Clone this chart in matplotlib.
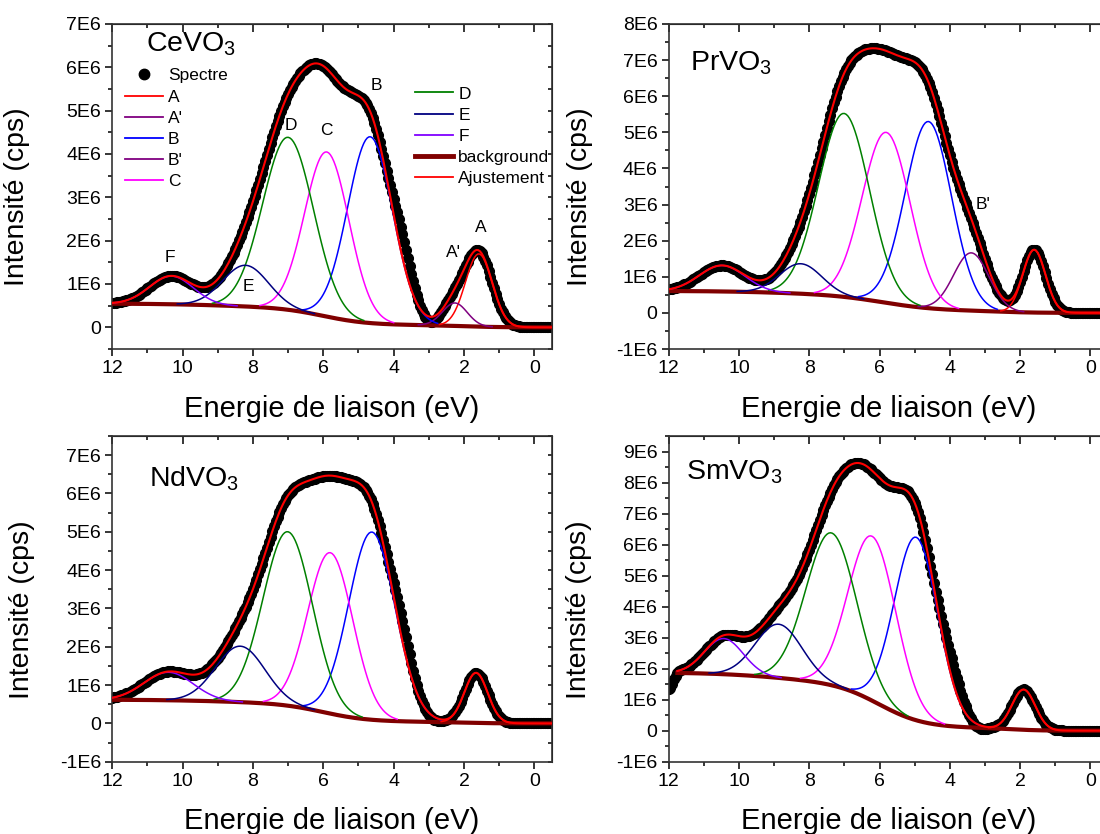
import numpy as np
import matplotlib
matplotlib.use("Agg")
import matplotlib.pyplot as plt
from matplotlib.lines import Line2D
from matplotlib.ticker import MultipleLocator, FuncFormatter

plt.rcParams['font.family'] = ['Liberation Sans', 'DejaVu Sans']
plt.rcParams['mathtext.fontset'] = 'custom'
plt.rcParams['mathtext.rm'] = 'Liberation Sans'
plt.rcParams['mathtext.default'] = 'regular'

# binding energy sampling of the spectra (eV)
energy = np.linspace(12.0, -0.5, 251)

# ---- CeVO3 ----
ce_names = ["A", "A'", "B", "C", "D", "E", "F"]
ce_centers = [1.58, 2.26, 4.67, 5.90, 7.00, 8.21, 10.32]
ce_heights = [1.68e6, 0.53e6, 4.30e6, 3.80e6, 3.98e6, 0.95e6, 0.65e6]
ce_widths = [0.38, 0.35, 0.64, 0.63, 0.72, 0.65, 0.62]
ce_bg_pos = [2.0, 6.0, 9.0]
ce_bg_step = [0.05e6, 0.42e6, 0.08e6]
ce_bg_width = [0.5, 0.65, 1.0]
ce_res_pos = [2.95, 3.75]
ce_res_amp = [-0.12e6, 0.55e6]
ce_res_width = [0.2, 0.28]

# ---- PrVO3 ----
pr_names = ["A", "B'", "B", "C", "D", "E", "F"]
pr_centers = [1.60, 3.39, 4.61, 5.81, 7.01, 8.24, 10.48]
pr_heights = [1.74e6, 1.60e6, 5.17e6, 4.72e6, 5.08e6, 0.83e6, 0.72e6]
pr_widths = [0.32, 0.50, 0.66, 0.68, 0.72, 0.60, 0.65]
pr_bg_pos = [2.5, 5.9, 9.0]
pr_bg_step = [0.05e6, 0.48e6, 0.08e6]
pr_bg_width = [0.5, 0.8, 1.0]
pr_res_pos = []
pr_res_amp = []
pr_res_width = []

# ---- NdVO3 ----
nd_names = ["A", "B", "C", "D", "E", "F"]
nd_centers = [1.66, 4.62, 5.80, 7.01, 8.36, 10.40]
nd_heights = [1.31e6, 4.90e6, 4.20e6, 4.54e6, 1.46e6, 0.73e6]
nd_widths = [0.33, 0.66, 0.64, 0.70, 0.70, 0.70]
nd_bg_pos = [2.2, 6.0, 9.0]
nd_bg_step = [0.04e6, 0.50e6, 0.08e6]
nd_bg_width = [0.5, 0.65, 1.0]
nd_res_pos = [2.9, 3.75]
nd_res_amp = [-0.08e6, 0.55e6]
nd_res_width = [0.2, 0.28]

# ---- SmVO3 ----
sm_names = ["A", "B", "C", "D", "E", "F"]
sm_centers = [1.90, 4.96, 6.21, 7.37, 8.87, 10.43]
sm_heights = [1.30e6, 5.90e6, 5.30e6, 4.91e6, 1.73e6, 1.15e6]
sm_widths = [0.33, 0.62, 0.68, 0.72, 0.66, 0.55]
sm_bg_pos = [2.2, 6.0, 9.0]
sm_bg_step = [0.08e6, 1.50e6, 0.30e6]
sm_bg_width = [0.4, 0.65, 1.0]
sm_res_pos = [3.2, 3.95, 12.0]
sm_res_amp = [-0.12e6, 0.60e6, -0.55e6]
sm_res_width = [0.2, 0.3, 0.12]

titles = ["CeVO$_3$", "PrVO$_3$", "NdVO$_3$", "SmVO$_3$"]
ylims = [(-0.5e6, 7e6), (-1e6, 8e6), (-1e6, 7.5e6), (-1e6, 9.5e6)]
fit_start = [12.0, 12.0, 12.0, 11.75]

# peak letters written on the plots
ce_lab_text = ["F", "E", "D", "C", "B", "A'", "A"]
ce_lab_x = [10.37, 8.13, 6.92, 5.90, 4.49, 2.30, 1.53]
ce_lab_y = [1.6e6, 0.94e6, 4.65e6, 4.55e6, 5.57e6, 1.73e6, 2.3e6]
pr_lab_text = ["B'"]
pr_lab_x = [3.05]
pr_lab_y = [3.0e6]

colors = {"A": "#ff0000", "A'": "#800080", "B": "#0000ff", "B'": "#800080",
          "C": "#ff00ff", "D": "#008000", "E": "#000080", "F": "#8000ff"}
BG_COLOR = "#800000"


def gauss(x, c, h, w):
    return h * np.exp(-(x - c) ** 2 / (2 * w ** 2))


def background(x, pos, step, width):
    out = np.zeros_like(x)
    for p, s, w in zip(pos, step, width):
        out += s / (1 + np.exp(-(x - p) / w))
    return out


def draw_panel(ax, title, names, centers, heights, widths, bg_pos, bg_step, bg_width,
               res_pos, res_amp, res_width, ylim, x0, ylab_x):
    bg = background(energy, bg_pos, bg_step, bg_width)
    comps = [gauss(energy, c, h, w) for c, h, w in zip(centers, heights, widths)]
    fit = bg + np.sum(comps, axis=0)
    spec = fit.copy()
    for p, a, w in zip(res_pos, res_amp, res_width):
        spec += gauss(energy, p, a, w)
    inside = energy <= x0 + 1e-9

    ax.plot(energy, spec, 'o', color='black', markersize=7, zorder=2)
    ax.plot(energy[inside], bg[inside], color=BG_COLOR, lw=3, zorder=3)
    for n, g, h in zip(names, comps, heights):
        m = inside & (g > 0.01 * h)
        ax.plot(energy[m], (bg + g)[m], color=colors[n], lw=1.1, zorder=4)
    ax.plot(energy[inside], fit[inside], color='#ff0000', lw=1.5, zorder=5)

    ax.set_xlim(12, -0.5)
    ax.set_ylim(*ylim)
    ax.xaxis.set_major_locator(MultipleLocator(2))
    ax.xaxis.set_minor_locator(MultipleLocator(1))
    ax.yaxis.set_major_locator(MultipleLocator(1e6))
    ax.yaxis.set_minor_locator(MultipleLocator(0.5e6))
    ax.yaxis.set_major_formatter(FuncFormatter(
        lambda v, p: "0" if abs(v) < 1 else "%dE6" % round(v / 1e6)))
    ax.tick_params(axis='both', which='major', direction='out', length=5, width=1.1,
                   labelsize=14, pad=3)
    ax.tick_params(axis='both', which='minor', direction='out', length=3, width=1.1)
    for s in ax.spines.values():
        s.set_linewidth(1.2)
        s.set_color('#333333')

    top = ax.secondary_xaxis('top')
    top.xaxis.set_major_locator(MultipleLocator(2))
    top.xaxis.set_minor_locator(MultipleLocator(1))
    top.tick_params(which='major', direction='in', length=6, width=1.1, labeltop=False)
    top.tick_params(which='minor', direction='in', length=3, width=1.1)
    right = ax.secondary_yaxis('right')
    right.yaxis.set_major_locator(MultipleLocator(1e6))
    right.yaxis.set_minor_locator(MultipleLocator(0.5e6))
    right.tick_params(which='both', direction='in', length=3, width=1.1, labelright=False)

    ax.set_xlabel("Energie de liaison (eV)", fontsize=21)
    ax.set_ylabel("Intensité (cps)", fontsize=20.5)
    ax.xaxis.set_label_coords(0.5, -0.14)
    ax.yaxis.set_label_coords(ylab_x, 0.468)


W, H = 1100, 834
fig = plt.figure(figsize=(11, 8.34), dpi=100)
ax1 = fig.add_axes([112.2 / W, 1 - 349 / H, 439.8 / W, 325 / H])
ax2 = fig.add_axes([668.6 / W, 1 - 349 / H, 439.4 / W, 325 / H])
ax3 = fig.add_axes([112.2 / W, 1 - 761.7 / H, 439.8 / W, 325.7 / H])
ax4 = fig.add_axes([668.6 / W, 1 - 761.7 / H, 439.4 / W, 325.7 / H])

draw_panel(ax1, titles[0], ce_names, ce_centers, ce_heights, ce_widths, ce_bg_pos,
           ce_bg_step, ce_bg_width, ce_res_pos, ce_res_amp, ce_res_width, ylims[0],
           fit_start[0], -0.188)
draw_panel(ax2, titles[1], pr_names, pr_centers, pr_heights, pr_widths, pr_bg_pos,
           pr_bg_step, pr_bg_width, pr_res_pos, pr_res_amp, pr_res_width, ylims[1],
           fit_start[1], -0.172)
draw_panel(ax3, titles[2], nd_names, nd_centers, nd_heights, nd_widths, nd_bg_pos,
           nd_bg_step, nd_bg_width, nd_res_pos, nd_res_amp, nd_res_width, ylims[2],
           fit_start[2], -0.175)
draw_panel(ax4, titles[3], sm_names, sm_centers, sm_heights, sm_widths, sm_bg_pos,
           sm_bg_step, sm_bg_width, sm_res_pos, sm_res_amp, sm_res_width, ylims[3],
           fit_start[3], -0.174)

# compound names
ax1.text(0.076, 0.914, titles[0], transform=ax1.transAxes, fontsize=20.5, va='baseline')
ax2.text(0.048, 0.856, titles[1], transform=ax2.transAxes, fontsize=20.5, va='baseline')
ax3.text(0.084, 0.844, titles[2], transform=ax3.transAxes, fontsize=20.5, va='baseline')
ax4.text(0.040, 0.865, titles[3], transform=ax4.transAxes, fontsize=20.5, va='baseline')

for t, x, y in zip(ce_lab_text, ce_lab_x, ce_lab_y):
    ax1.text(x, y, t, fontsize=12.5, ha='center', va='center', zorder=6)
for t, x, y in zip(pr_lab_text, pr_lab_x, pr_lab_y):
    ax2.text(x, y, t, fontsize=12.5, ha='center', va='center', zorder=6)

# legend of the first panel, in two columns
col1 = [Line2D([], [], ls='none', marker='o', color='black', markersize=7.5)]
col1 += [Line2D([], [], color=colors[n], lw=1.3) for n in ["A", "A'", "B", "B'", "C"]]
lab1 = ["Spectre", "A", "A'", "B", "B'", "C"]
col2 = [Line2D([], [], color=colors[n], lw=1.3) for n in ["D", "E", "F"]]
col2 += [Line2D([], [], color=BG_COLOR, lw=3.5), Line2D([], [], color='#ff0000', lw=1.3)]
lab2 = ["D", "E", "F", "background", "Ajustement"]
leg1 = ax1.legend(col1, lab1, loc='upper left', bbox_to_anchor=(0.028, 0.864),
                  frameon=False, fontsize=12.5, handlelength=2.2, handletextpad=0.3,
                  labelspacing=0.35, borderpad=0, borderaxespad=0)
ax1.add_artist(leg1)
ax1.legend(col2, lab2, loc='upper left', bbox_to_anchor=(0.688, 0.808),
           frameon=False, fontsize=12.5, handlelength=2.2, handletextpad=0.3,
           labelspacing=0.35, borderpad=0, borderaxespad=0)

fig.savefig("out.png", dpi=100)
plt.close(fig)
